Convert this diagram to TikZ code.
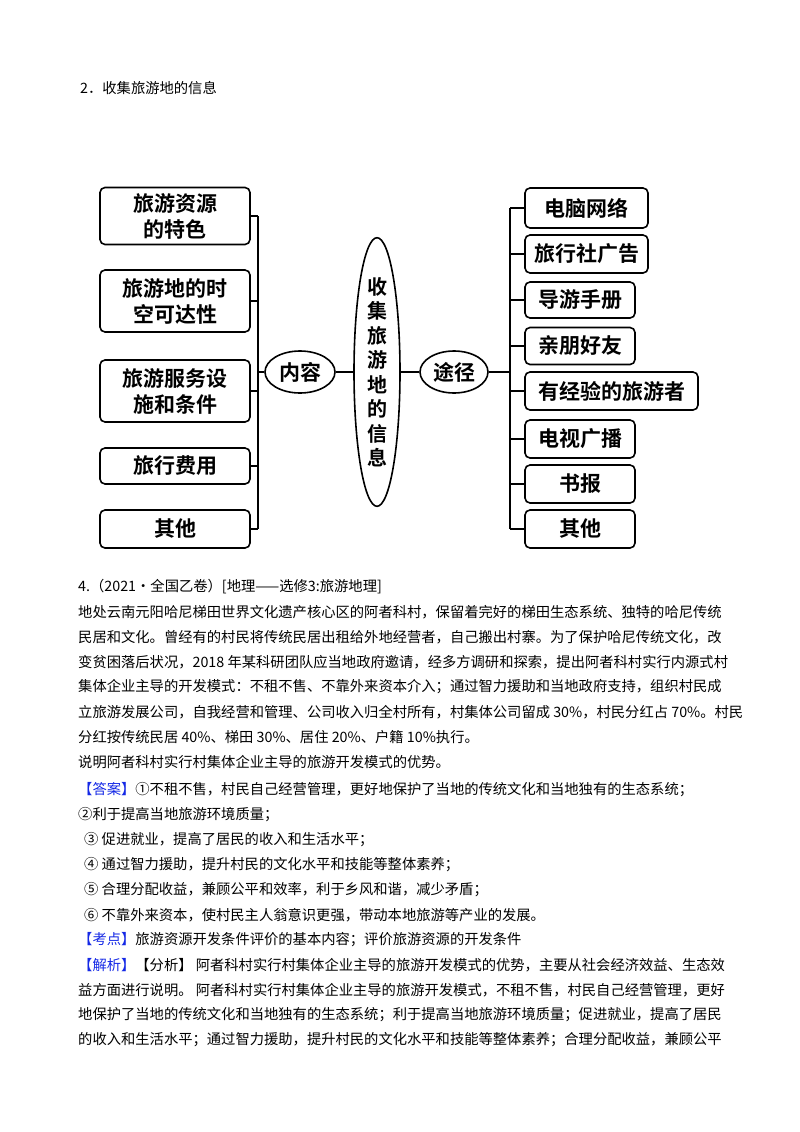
\documentclass[tikz,border=0pt]{standalone}
\usepackage{fontspec}
\setmainfont{Noto Sans CJK SC}
\newfontfamily\cjkb{Noto Sans CJK SC Bold}
\usetikzlibrary{shapes.geometric}
\definecolor{lblue}{RGB}{20,40,230}
\tikzset{
 bx/.style={draw,line width=1.6pt,rounded corners=5pt,font=\cjkb\fontsize{21}{26}\selectfont,inner sep=0pt,align=center},
 el/.style={draw,line width=1.6pt,ellipse,inner sep=0pt,font=\cjkb\fontsize{21}{26}\selectfont,align=center},
 ln/.style={line width=1.6pt},
 tx/.style={anchor=west,inner sep=0pt,font=\fontsize{14.3}{18}\selectfont},
 bl/.style={text=lblue}
}
\begin{document}
\begin{tikzpicture}[x=1pt,y=-1pt]
\useasboundingbox[fill=white] (0,0) rectangle (800,1132);
\node[tx] (h) at (80,88) {2．收集旅游地的信息};
% left boxes
\node[bx,minimum width=150,minimum height=57] (l1) at (175,216) {旅游资源\\的特色};
\node[bx,minimum width=150,minimum height=62] (l2) at (175,301) {旅游地的时\\空可达性};
\node[bx,minimum width=150,minimum height=62] (l3) at (175,391) {旅游服务设\\施和条件};
\node[bx,minimum width=150,minimum height=36] (l4) at (175,466) {旅行费用};
\node[bx,minimum width=150,minimum height=38] (l5) at (175,529) {其他};
\node[el,minimum width=70,minimum height=42] (nr) at (300,372) {内容};
\node[el,minimum width=46,minimum height=256,font=\cjkb\fontsize{20}{24.5}\selectfont] (c) at (377,372) {收\\集\\旅\\游\\地\\的\\信\\息};
\node[el,minimum width=68,minimum height=42] (tj) at (454,372) {途径};
% right boxes
\node[bx,minimum width=123,minimum height=40] (r1) at (586.5,208) {电脑网络};
\node[bx,minimum width=123,minimum height=38] (r2) at (586.5,254) {旅行社广告};
\node[bx,minimum width=110,minimum height=36] (r3) at (580,300) {导游手册};
\node[bx,minimum width=110,minimum height=37] (r4) at (580,346) {亲朋好友};
\node[bx,minimum width=173,minimum height=38] (r5) at (611.5,391) {有经验的旅游者};
\node[bx,minimum width=110,minimum height=38] (r6) at (580,439) {电视广播};
\node[bx,minimum width=110,minimum height=38] (r7) at (580,484) {书报};
\node[bx,minimum width=110,minimum height=38] (r8) at (580,529) {其他};
% left bracket
\coordinate (lb1) at (258,216); \coordinate (lb5) at (258,529);
\draw[ln] (lb1) -- (lb5);
\foreach \n in {l1,l2,l3,l4,l5} \draw[ln] (\n.east) -- (\n.east -| lb1);
\draw[ln] (nr.west) -- (nr.west -| lb1);
\draw[ln] (nr.east) -- (c.west |- nr.east);
\draw[ln] (tj.west) -- (c.east |- tj.west);
% right bracket
\coordinate (rb1) at (510,208); \coordinate (rb8) at (510,529);
\draw[ln] (rb1) -- (rb8);
\foreach \n in {r1,r2,r3,r4,r5,r6,r7,r8} \draw[ln] (\n.west) -- (\n.west -| rb1);
\draw[ln] (tj.east) -- (tj.east -| rb1);
% text
\node[tx] (t0) at (78,587) {4.（2021·全国乙卷）[地理——选修3:旅游地理]};
\node[tx] (t1) at (78,612) {地处云南元阳哈尼梯田世界文化遗产核心区的阿者科村，保留着完好的梯田生态系统、独特的哈尼传统};
\node[tx] (t2) at (78,637) {民居和文化。曾经有的村民将传统民居出租给外地经营者，自己搬出村寨。为了保护哈尼传统文化，改};
\node[tx] (t3) at (78,662) {变贫困落后状况，2018 年某科研团队应当地政府邀请，经多方调研和探索，提出阿者科村实行内源式村};
\node[tx] (t4) at (78,687) {集体企业主导的开发模式：不租不售、不靠外来资本介入；通过智力援助和当地政府支持，组织村民成};
\node[tx] (t5) at (78,712) {立旅游发展公司，自我经营和管理、公司收入归全村所有，村集体公司留成 30\%，村民分红占 70\%。村民};
\node[tx] (t6) at (78,737) {分红按传统民居 40\%、梯田 30\%、居住 20\%、户籍 10\%执行。};
\node[tx] (t7) at (78,762) {说明阿者科村实行村集体企业主导的旅游开发模式的优势。};
\node[tx] (a1) at (78,790) {\textcolor{lblue}{【答案】}①不租不售，村民自己经营管理，更好地保护了当地的传统文化和当地独有的生态系统；};
\node[tx] (a2) at (78,815) {②利于提高当地旅游环境质量；};
\node[tx] (a3) at (84,840) {③ 促进就业，提高了居民的收入和生活水平；};
\node[tx] (a4) at (84,865) {④ 通过智力援助，提升村民的文化水平和技能等整体素养；};
\node[tx] (a5) at (84,890) {⑤ 合理分配收益，兼顾公平和效率，利于乡风和谐，减少矛盾；};
\node[tx] (a6) at (84,915) {⑥ 不靠外来资本，使村民主人翁意识更强，带动本地旅游等产业的发展。};
\node[tx] (k1) at (78,940) {\textcolor{lblue}{【考点】}旅游资源开发条件评价的基本内容；评价旅游资源的开发条件};
\node[tx] (j1) at (78,965) {\textcolor{lblue}{【解析】}【分析】 阿者科村实行村集体企业主导的旅游开发模式的优势，主要从社会经济效益、生态效};
\node[tx] (j2) at (78,990) {益方面进行说明。 阿者科村实行村集体企业主导的旅游开发模式，不租不售，村民自己经营管理，更好};
\node[tx] (j3) at (78,1015) {地保护了当地的传统文化和当地独有的生态系统；利于提高当地旅游环境质量；促进就业，提高了居民};
\node[tx] (j4) at (78,1040) {的收入和生活水平；通过智力援助，提升村民的文化水平和技能等整体素养；合理分配收益，兼顾公平};
\end{tikzpicture}
\end{document}
